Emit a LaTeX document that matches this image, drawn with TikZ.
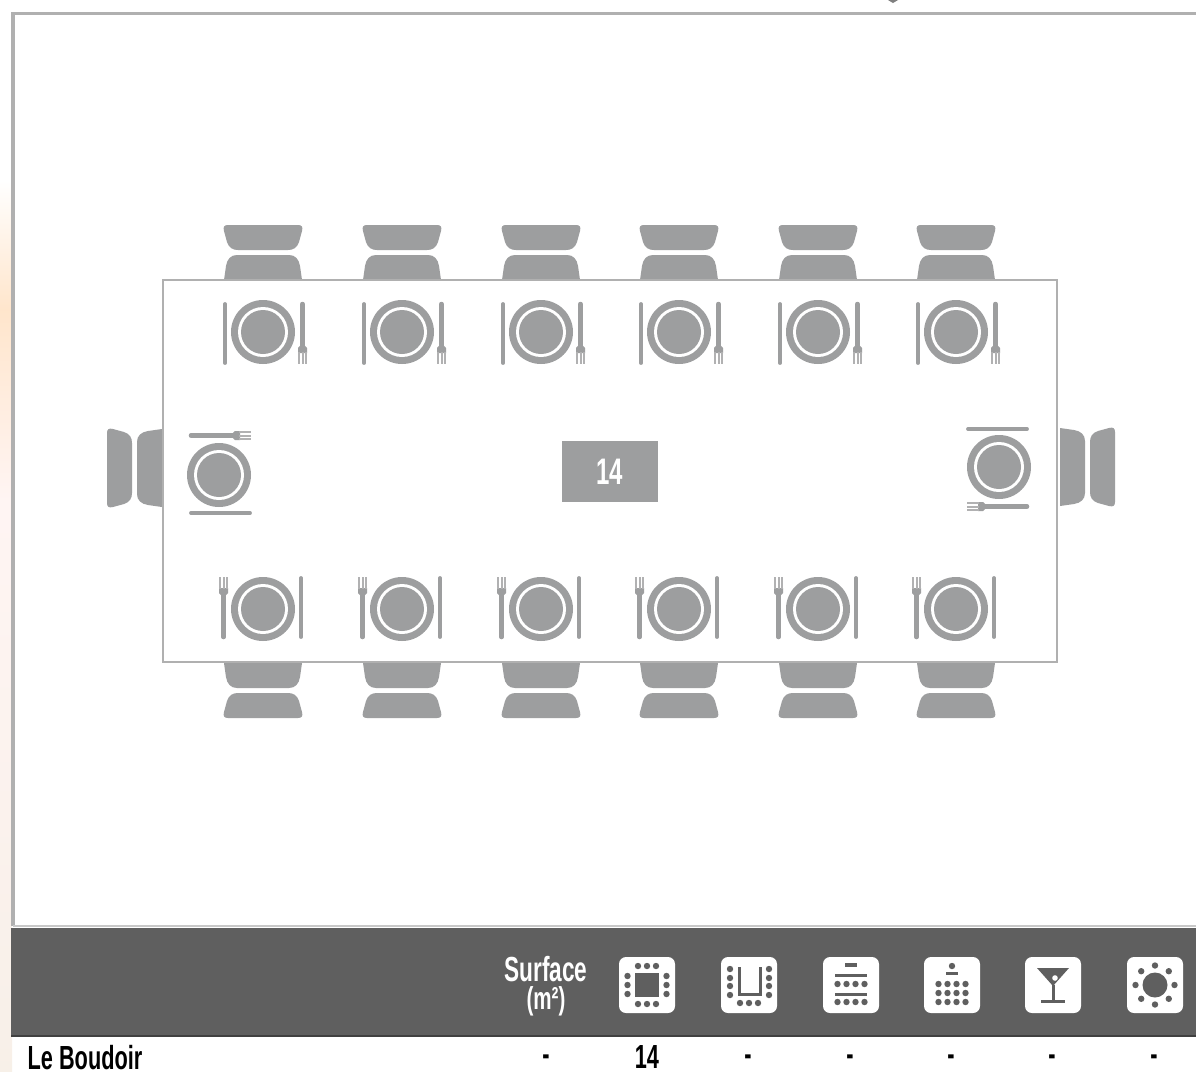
\documentclass[tikz,border=0pt]{standalone}
\usepackage{fontspec}
\usepackage{tikz}
\usetikzlibrary{positioning,calc}
\newfontfamily\condfont[FakeStretch=0.65]{Liberation Sans}
\definecolor{seatgray}{HTML}{9D9E9F}
\definecolor{linegray}{HTML}{B0B0B0}
\definecolor{bandgray}{HTML}{5F5F5F}
\tikzset{
    chair/.pic={
        % seat against the table edge, then the back
        \fill[seatgray] (-39,0) -- (-37,-14) .. controls (-36,-21) and (-32,-25) .. (-26,-25)
            -- (26,-25) .. controls (32,-25) and (36,-21) .. (37,-14) -- (39,0) -- cycle;
        \fill[seatgray] (-35,-55) -- (35,-55) .. controls (39,-55) and (40,-53) .. (39,-49)
            -- (36,-38) .. controls (34,-32) and (30,-30) .. (25,-30) -- (-25,-30)
            .. controls (-30,-30) and (-34,-32) .. (-36,-38) -- (-39,-49)
            .. controls (-40,-53) and (-39,-55) .. (-35,-55) -- cycle;
    },
    setting/.pic={
        % plate
        \fill[seatgray] (0,0) circle (32);
        \fill[white] (0,0) circle (25);
        \fill[seatgray] (0,0) circle (22);
        % knife
        \draw[seatgray,line width=0.38mm,line cap=round] (-38,-28) -- (-38,31);
        % fork
        \draw[seatgray,line width=0.45mm,line cap=round] (39.5,-28) -- (39.5,14);
        \fill[seatgray] (35,16) -- (39.5,11) -- (44,16) -- (44,21) -- (35,21) -- cycle;
        \foreach \tine in {36,39.5,43} {
            \draw[seatgray!80,line width=0.2mm] (\tine,20) -- (\tine,32);
        }
    },
    iconbox/.pic={
        \fill[white,rounded corners=0.07cm] (-28,-28) rectangle (28,28);
    },
    guest/.style={fill=bandgray,radius=3.2},
    darkbar/.style={draw=bandgray,line width=0.3mm},
    bandtext/.style={text=white,font=\condfont\bfseries\fontsize{9.9}{9.9}\selectfont,inner sep=0pt},
    rowtext/.style={text=black,font=\condfont\bfseries\fontsize{9.5}{9.5}\selectfont,inner sep=0pt},
}
\begin{document}
\begin{tikzpicture}[x=0.01cm,y=-0.01cm]
    \useasboundingbox (0,0) rectangle (1196,1072);
    \fill[white] (0,0) rectangle (1196,1072);

    % Tinted strip on the left
    \shade[top color=white,bottom color=orange!20!white] (0,180) rectangle (12,310);
    \shade[top color=orange!20!white,bottom color=orange!8!pink!15!white] (0,310) rectangle (12,500);
    \shade[top color=orange!8!pink!15!white,bottom color=brown!12!white] (0,500) rectangle (12,1072);

    % Frame
    \draw[linegray,line width=0.3mm] (13,926) -- (13,13) -- (1196,13);
    \draw[linegray!70,line width=0.2mm] (13,926) -- (1196,926);
    \fill[bandgray!80] (888,0) -- (898,0) -- (893,3) -- cycle;

    % Chairs
    \foreach \seatx in {263,402,541,679,818,956} {
        \pic at (\seatx,280) {chair};
        \pic[rotate=180] at (\seatx,663) {chair};
    }
    \pic[rotate=90] at (162,468) {chair};
    \pic[rotate=-90] at (1060,467) {chair};

    % Table
    \draw[linegray,line width=0.26mm,fill=white] (163,280) rectangle (1057,662);
    \node[fill=seatgray,minimum width=0.96cm,minimum height=0.61cm,inner sep=0pt,
        text=white,font=\condfont\bfseries\fontsize{10.5}{10.5}\selectfont] (tableNum) at (610,471.5) {14};

    % Place settings
    \foreach \seatx in {263,402,541,679,818,956} {
        \pic at (\seatx,332) {setting};
        \pic[rotate=180] at (\seatx,609) {setting};
    }
    \pic[rotate=90] at (219,475) {setting};
    \pic[rotate=-90] at (999,467) {setting};

    % Header band
    \fill[bandgray] (11,928) rectangle (1196,1036);
    \draw[black!75,line width=0.15mm] (11,1036) -- (1196,1036);
    \node[bandtext] (surfaceHead) at (546,969) {Surface};
    \node[bandtext,font=\condfont\bfseries\fontsize{9}{9}\selectfont] (surfaceUnit) at (546,1001) {(m²)};

    % Icons
    \pic at (647,985) {iconbox};
    \fill[bandgray] (635,973) rectangle (659,997);
    \foreach \k in {-9,0,9} {
        \fill[guest] (647+\k,966) circle;
        \fill[guest] (647+\k,1004) circle;
        \fill[guest] (627.5,985+\k) circle;
        \fill[guest] (666.5,985+\k) circle;
    }

    \pic at (749,985) {iconbox};
    \draw[darkbar] (739,967) -- (739,994) -- (760,994) -- (760,967);
    \foreach \k in {-16,-7,1,10} {
        \fill[guest] (730,985+\k) circle;
        \fill[guest] (769,985+\k) circle;
    }
    \foreach \k in {-9,0,9} {
        \fill[guest] (749+\k,1003) circle;
    }

    \pic at (851,985) {iconbox};
    \draw[darkbar,line width=0.35mm] (845,965) -- (857,965);
    \draw[darkbar] (835,975) -- (867,975);
    \draw[darkbar] (835,994) -- (867,994);
    \foreach \k in {-13.5,-4.5,4.5,13.5} {
        \fill[guest] (851+\k,984) circle;
        \fill[guest] (851+\k,1002) circle;
    }

    \pic at (952,985) {iconbox};
    \fill[guest] (952,966) circle;
    \draw[darkbar] (946,973) -- (958,973);
    \foreach \k in {-13.5,-4.5,4.5,13.5} {
        \foreach \r in {984,993,1002} {
            \fill[guest] (952+\k,\r) circle;
        }
    }

    \pic at (1053,985) {iconbox};
    \fill[bandgray] (1037,968) -- (1069,968) -- (1053,986) -- cycle;
    \fill[white] (1055,978) circle (2.8);
    \draw[darkbar] (1053,985) -- (1053,1000);
    \draw[darkbar] (1041,1001) -- (1065,1001);

    \pic at (1155,985) {iconbox};
    \fill[bandgray] (1155,985) circle (12.5);
    \foreach \a in {0,45,...,315} {
        \fill[guest] ($(1155,985)+(\a:19.5)$) circle;
    }

    % Row
    \node[rowtext,anchor=west] (roomName) at (27,1058) {Le Boudoir};
    \node[rowtext] (roomSize) at (647,1057) {14};
    \foreach \col/\dashx in {a/546,b/748,c/850,d/951,e/1052,f/1154} {
        \node[rowtext] (dash\col) at (\dashx,1060) {-};
    }
\end{tikzpicture}
\end{document}
